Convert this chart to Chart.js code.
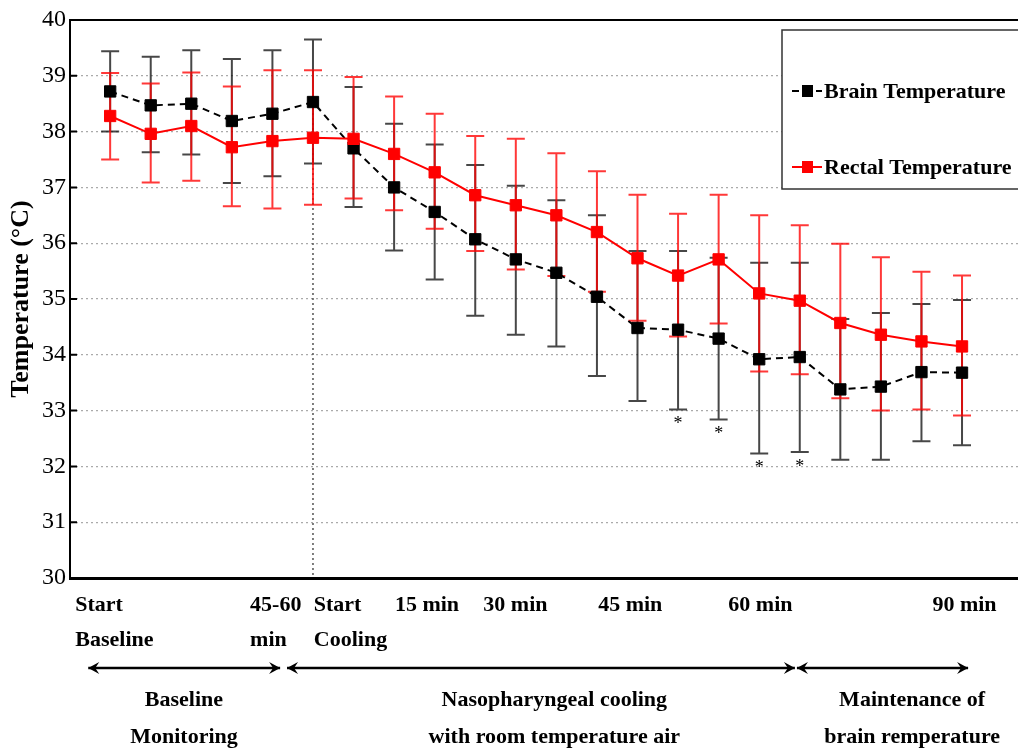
<!DOCTYPE html>
<html>
<head>
<meta charset="utf-8">
<script src="https://cdn.jsdelivr.net/npm/chart.js@4.4.1/dist/chart.umd.min.js"></script>
<style>
  html, body { margin: 0; padding: 0; background: #fff; }
  #wrap { width: 1018px; height: 752px; }
</style>
</head>
<body>
<div id="wrap"><canvas id="grafico"></canvas></div>
<script>
// posiciones de medicion (indice de cada punto)
const puntos = [0, 1, 2, 3, 4, 5, 6, 7, 8, 9, 10, 11, 12, 13, 14, 15, 16, 17, 18, 19, 20, 21];

// temperatura cerebral: media y extremos de la barra de error
const brainTemp = [38.72, 38.47, 38.50, 38.19, 38.32, 38.53, 37.70, 37.00, 36.56, 36.07, 35.71,
  35.47, 35.04, 34.48, 34.45, 34.29, 33.92, 33.96, 33.38, 33.43, 33.69, 33.68];
const brainSup = [39.44, 39.34, 39.46, 39.30, 39.46, 39.65, 38.80, 38.14, 37.77, 37.40, 37.03,
  36.77, 36.50, 35.86, 35.86, 35.74, 35.65, 35.65, 34.64, 34.75, 34.91, 34.98];
const brainInf = [38.00, 37.63, 37.59, 37.08, 37.20, 37.43, 36.65, 35.87, 35.35, 34.70, 34.36,
  34.15, 33.62, 33.17, 33.02, 32.84, 32.23, 32.26, 32.12, 32.12, 32.45, 32.38];

// temperatura rectal
const rectalTemp = [38.28, 37.96, 38.10, 37.72, 37.83, 37.89, 37.87, 37.60, 37.27, 36.86, 36.68,
  36.50, 36.20, 35.73, 35.42, 35.71, 35.10, 34.97, 34.57, 34.36, 34.24, 34.15];
const rectalSup = [39.05, 38.86, 39.06, 38.81, 39.10, 39.10, 38.98, 38.63, 38.32, 37.92, 37.87,
  37.61, 37.29, 36.87, 36.53, 36.87, 36.50, 36.32, 35.99, 35.75, 35.49, 35.42];
const rectalInf = [37.50, 37.09, 37.12, 36.66, 36.62, 36.69, 36.80, 36.59, 36.26, 35.86, 35.53,
  35.41, 35.13, 34.61, 34.33, 34.56, 33.70, 33.65, 33.22, 33.00, 33.02, 32.91];

// puntos con diferencia significativa (*)
const asteriscos = [14, 15, 16, 17];

// etiquetas del eje x
const etiquetasX = [["Start", "Baseline"], ["45-60", "min"], ["Start", "Cooling"], "15 min", "30 min", "45 min", "60 min", "90 min"];
const etiquetasPos = [-0.86, 3.45, 5.02, 7.02, 9.2, 12.03, 15.24, 20.27];

// fases del estudio
const fases = [["Baseline", "Monitoring"], ["Nasopharyngeal cooling", "with room temperature air"], ["Maintenance of", "brain remperature"]];
const faseInicio = [-0.54, 4.36, 16.93];
const faseFin = [4.19, 16.88, 21.15];
const faseCentro = [1.82, 10.95, 19.77];

const fuente = "'Liberation Serif', 'Times New Roman', serif";

const extras = {
  id: "extras",
  beforeDatasetsDraw(chart) {
    const ctx = chart.ctx;
    const x = chart.scales.x, y = chart.scales.y;
    const area = chart.chartArea;

    // linea punteada de inicio del enfriamiento
    ctx.save();
    ctx.strokeStyle = "#555";
    ctx.lineWidth = 1.5;
    ctx.setLineDash([2, 3]);
    ctx.beginPath();
    ctx.moveTo(x.getPixelForValue(puntos[5]), y.getPixelForValue(brainTemp[5]) + 6);
    ctx.lineTo(x.getPixelForValue(puntos[5]), area.bottom);
    ctx.stroke();
    ctx.restore();

    // barras de error
    const series = [
      { sup: brainSup, inf: brainInf, color: "rgba(0,0,0,0.72)" },
      { sup: rectalSup, inf: rectalInf, color: "rgba(255,0,0,0.78)" },
    ];
    ctx.save();
    ctx.lineWidth = 2;
    series.forEach(s => {
      ctx.strokeStyle = s.color;
      puntos.forEach((p, i) => {
        const px = x.getPixelForValue(p);
        const y1 = y.getPixelForValue(s.sup[i]);
        const y2 = y.getPixelForValue(s.inf[i]);
        ctx.beginPath();
        ctx.moveTo(px, y1); ctx.lineTo(px, y2);
        ctx.moveTo(px - 9, y1); ctx.lineTo(px + 9, y1);
        ctx.moveTo(px - 9, y2); ctx.lineTo(px + 9, y2);
        ctx.stroke();
      });
    });
    ctx.restore();
  },
  afterDraw(chart) {
    const ctx = chart.ctx;
    const x = chart.scales.x, y = chart.scales.y;
    const area = chart.chartArea;
    ctx.save();

    // borde superior y marcas hacia adentro
    ctx.strokeStyle = "#000";
    ctx.lineWidth = 2;
    ctx.beginPath();
    ctx.moveTo(area.left, area.top); ctx.lineTo(area.right, area.top);
    for (let v = 30; v <= 40; v++) {
      const py = y.getPixelForValue(v);
      ctx.moveTo(area.left, py); ctx.lineTo(area.left + 7, py);
    }
    ctx.stroke();

    // asteriscos
    ctx.fillStyle = "#000";
    ctx.font = "18px " + fuente;
    ctx.textAlign = "center";
    ctx.textBaseline = "middle";
    asteriscos.forEach(i => {
      ctx.fillText("*", x.getPixelForValue(puntos[i]), y.getPixelForValue(brainInf[i]) + 15);
    });

    // leyenda
    const lx = area.right - 236, ly = area.top + 10;
    ctx.fillStyle = "#fff";
    ctx.fillRect(lx, ly, 260, 159);
    ctx.strokeStyle = "#333";
    ctx.lineWidth = 1.5;
    ctx.strokeRect(lx, ly, 260, 159);
    chart.data.datasets.forEach((ds, k) => {
      const ey = ly + 61 + k * 76;
      ctx.strokeStyle = ds.borderColor;
      ctx.lineWidth = 2;
      ctx.setLineDash(ds.borderDash || []);
      ctx.beginPath();
      ctx.moveTo(lx + 10, ey); ctx.lineTo(lx + 40, ey);
      ctx.stroke();
      ctx.setLineDash([]);
      ctx.fillStyle = ds.backgroundColor;
      ctx.fillRect(lx + 20, ey - 6, 11, 12);
      ctx.fillStyle = "#000";
      ctx.font = "bold 22px " + fuente;
      ctx.textAlign = "left";
      ctx.fillText(ds.label, lx + 42, ey + 1);
    });

    // flechas de fases y textos
    const fy = area.bottom + 90;
    ctx.strokeStyle = "#000";
    ctx.fillStyle = "#000";
    ctx.lineWidth = 2.5;
    fases.forEach((f, i) => {
      const a = x.getPixelForValue(faseInicio[i]);
      const b = x.getPixelForValue(faseFin[i]);
      ctx.beginPath();
      ctx.moveTo(a, fy); ctx.lineTo(b, fy);
      ctx.stroke();
      ctx.beginPath();
      ctx.moveTo(a, fy); ctx.lineTo(a + 11, fy - 6); ctx.lineTo(a + 7, fy); ctx.lineTo(a + 11, fy + 6); ctx.closePath();
      ctx.moveTo(b, fy); ctx.lineTo(b - 11, fy - 6); ctx.lineTo(b - 7, fy); ctx.lineTo(b - 11, fy + 6); ctx.closePath();
      ctx.fill();
      ctx.font = "bold 22px " + fuente;
      ctx.textAlign = "center";
      const cx = x.getPixelForValue(faseCentro[i]);
      ctx.fillText(f[0], cx, area.bottom + 122);
      ctx.fillText(f[1], cx, area.bottom + 159);
    });
    ctx.restore();
  },
};

const ctx = document.getElementById("grafico").getContext("2d");
const grafico = new Chart(ctx, {
  type: "line",
  data: {
    datasets: [
      {
        label: "Brain Temperature",
        data: puntos.map((p, i) => ({ x: p, y: brainTemp[i] })),
        borderColor: "#000",
        backgroundColor: "#000",
        borderWidth: 2,
        borderDash: [7, 5],
        pointStyle: "rect",
        pointRadius: 8,
        pointBorderWidth: 1,
        order: 1,
      },
      {
        label: "Rectal Temperature",
        data: puntos.map((p, i) => ({ x: p, y: rectalTemp[i] })),
        borderColor: "#ff0000",
        backgroundColor: "#ff0000",
        borderWidth: 2,
        pointStyle: "rect",
        pointRadius: 8,
        pointBorderWidth: 1,
        order: 0,
      },
    ],
  },
  options: {
    responsive: true,
    maintainAspectRatio: false,
    animation: false,
    layout: { autoPadding: false, padding: { top: 20, right: 0, left: 0, bottom: 0 } },
    plugins: {
      legend: { display: false },
      tooltip: { enabled: false },
    },
    scales: {
      x: {
        type: "linear",
        min: -0.99,
        max: 22.38,
        grid: { display: false },
        border: { color: "#000", width: 3 },
        afterBuildTicks: s => { s.ticks = etiquetasPos.map(v => ({ value: v })); },
        afterFit: s => { s.height = 174; s.paddingLeft = 0; s.paddingRight = 0; },
        ticks: {
          autoSkip: false,
          maxRotation: 0,
          align: "start",
          padding: 2,
          color: "#000",
          font: { family: fuente, weight: "bold", size: 22, lineHeight: 1.6 },
          callback: (v, i) => etiquetasX[i],
        },
      },
      y: {
        min: 30,
        max: 40,
        afterFit: s => { s.width = 70; },
        ticks: {
          stepSize: 1,
          color: "#000",
          padding: 4,
          font: { family: fuente, size: 24 },
        },
        grid: { color: "#aaa", lineWidth: 1.2, drawTicks: false },
        border: { color: "#000", width: 2, dash: [2, 3] },
        title: {
          display: true,
          text: "Temperature (°C)",
          color: "#000",
          padding: { top: 6, bottom: 0 },
          font: { family: fuente, weight: "bold", size: 26 },
        },
      },
    },
  },
  plugins: [extras],
});
</script>
</body>
</html>
